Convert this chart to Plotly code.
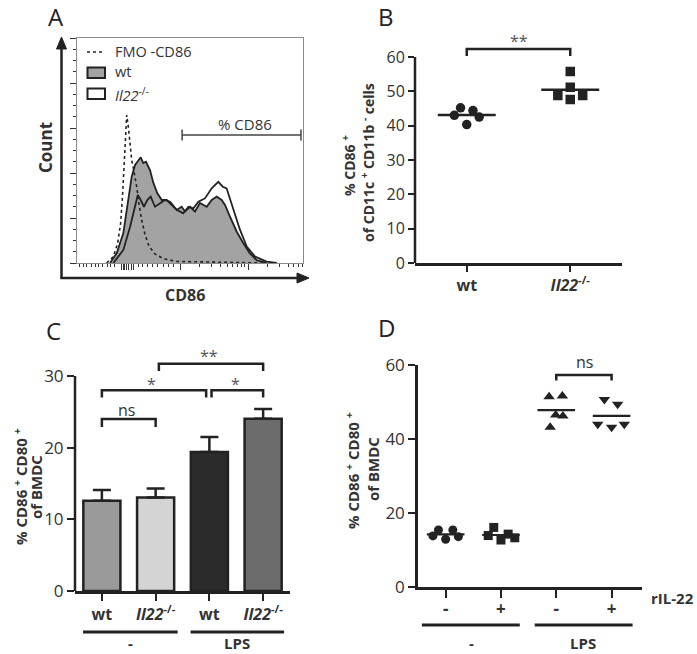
import plotly.graph_objects as go
import numpy as np

W, H = 697, 654
FONT = "Open Sans"
INK = "#222222"


def px(x):
    return x / W


def py(y):
    return 1 - y / H


# ---------------- Panel A: CD86 histogram (arbitrary channel units) ----------------
fmo_x = [13.1, 16.1, 18.0, 19.3, 20.2, 20.9, 21.5, 22.0, 22.7, 23.5, 24.2, 25.2, 26.4, 27.4,
         28.6, 30.1, 31.9, 34.5, 38.2, 44.1, 60.0, 82.3]
fmo_y = [0, 2.8, 8.8, 17.6, 30.8, 45.8, 59.1, 65.8, 60.6, 51.8, 45.8, 40.7, 34.0, 26.5,
         19.2, 12.6, 7.4, 4.0, 1.9, 0.7, 0.3, 0]

wt_x = [14.6, 17.6, 20.5, 22.7, 24.2, 25.7, 27.1, 28.2, 29.3, 30.5, 32.3, 33.8, 35.5, 37.5,
        39.7, 41.9, 44.1, 46.3, 47.8, 50.0, 52.2, 54.4, 57.4, 59.6, 61.8, 64.0, 65.5, 67.7,
        70.7, 73.6, 76.5, 79.5, 83.9]
wt_y = [0, 4.4, 13.3, 28.0, 38.4, 43.6, 45.8, 47.0, 44.4, 45.0, 41.3, 35.6, 31.1, 28.0,
        28.0, 25.8, 23.6, 25.0, 22.9, 25.0, 22.9, 26.7, 25.0, 28.0, 29.5, 28.0, 25.8, 20.6,
        13.9, 8.8, 4.3, 1.3, 0]

ko_x = [16.1, 20.5, 23.5, 25.7, 26.9, 28.2, 29.6, 31.1, 32.6, 34.5, 36.7, 38.9, 41.2, 44.1,
        47.0, 49.3, 51.5, 53.7, 56.6, 59.6, 62.5, 64.5, 66.2, 67.7, 69.9, 72.1, 75.1, 78.8,
        83.9, 88.4]
ko_y = [0, 5.8, 16.1, 25.0, 30.2, 28.0, 25.0, 28.0, 29.5, 25.0, 26.5, 28.0, 27.2, 23.6,
        22.1, 25.0, 24.3, 27.2, 28.7, 33.2, 36.1, 33.9, 33.2, 28.7, 22.1, 14.8, 7.3, 2.8,
        0.6, 0]

gate_x = [46.5, 99.1]
gate_y = 56.9

a_minor_ticks = [0.9, 2.7, 4.4, 6.2, 8.0, 9.7, 11.5, 13.3, 15.0, 16.8, 27.0, 29.2, 31.4, 33.6,
                 35.8, 38.1, 40.3, 42.5, 54.4, 59.7, 63.3, 66.4, 68.6, 70.8, 72.6, 73.9,
                 84.5, 89.8, 93.4, 96.0, 97.8, 99.6]
a_major_ticks = [19.5, 20.4, 21.2, 22.1, 23.0, 23.9, 24.8, 45.6, 75.7]

# ---------------- Panel B ----------------
b_labels = ["<b>wt</b>", "<b><i>Il22</i><sup>-/-</sup></b>"]
b_wt = [43.0, 45.2, 40.3, 44.4, 42.5]
b_ko = [48.8, 55.8, 51.2, 47.6, 48.8]
b_wt_off = [-0.12, -0.06, 0.0, 0.06, 0.12]
b_ko_off = [-0.12, 0.0, 0.0, 0.0, 0.12]

# ---------------- Panel C ----------------
c_labels = ["<b>wt</b>", "<b><i>Il22</i><sup>-/-</sup></b>", "<b>wt</b>", "<b><i>Il22</i><sup>-/-</sup></b>"]
c_mean = [12.6, 13.05, 19.4, 24.05]
c_sem = [1.5, 1.25, 2.1, 1.35]
c_colors = ["#9a9a9a", "#d4d4d4", "#2b2b2b", "#6c6c6c"]

# ---------------- Panel D ----------------
d_labels = ["<b>-</b>", "<b>+</b>", "<b>-</b>", "<b>+</b>"]
d_g1 = [13.8, 15.4, 12.9, 15.4, 13.6]
d_g2 = [13.9, 16.1, 12.7, 14.3, 13.3]
d_g3 = [51.4, 51.6, 46.5, 46.2, 43.2]
d_g4 = [44.0, 50.7, 43.2, 49.4, 44.0]
d_off1 = [-0.23, -0.13, 0.0, 0.13, 0.23]
d_off2 = [-0.23, -0.13, 0.0, 0.13, 0.25]
d_off3 = [-0.13, 0.11, -0.01, 0.12, -0.11]
d_off4 = [-0.25, -0.13, 0.0, 0.11, 0.23]
d_symbols = ["circle", "square", "triangle-up", "triangle-down"]

# axis geometry (domain in page pixels, data range)
AX = {
    "A": dict(xd=(77, 303), xr=(0, 100), yd=(263, 38), yr=(0, 100)),
    "B": dict(xd=(415, 622), xr=(-0.5, 1.5), yd=(263, 29.5), yr=(0, 68)),
    "C": dict(xd=(75, 290), xr=(-0.5, 3.5), yd=(591, 358.1), yr=(0, 32.5)),
    "D": dict(xd=(418, 642), xr=(-0.5, 3.55), yd=(587, 365), yr=(0, 60)),
}


def to_paper(panel, x, y):
    g = AX[panel]
    fx = (x - g["xr"][0]) / (g["xr"][1] - g["xr"][0])
    fy = (y - g["yr"][0]) / (g["yr"][1] - g["yr"][0])
    pxv = g["xd"][0] + fx * (g["xd"][1] - g["xd"][0])
    pyv = g["yd"][0] + fy * (g["yd"][1] - g["yd"][0])
    return px(pxv), py(pyv)


def dom_x(p):
    return [px(AX[p]["xd"][0]), px(AX[p]["xd"][1])]


def dom_y(p):
    return [py(AX[p]["yd"][0]), py(AX[p]["yd"][1])]


fig = go.Figure()

# ---- A traces
fig.add_trace(go.Scatter(x=wt_x, y=wt_y, mode="lines", fill="tozeroy", fillcolor="#a3a3a3",
                         line=dict(color=INK, width=1.8), xaxis="x", yaxis="y"))
fig.add_trace(go.Scatter(x=ko_x, y=ko_y, mode="lines",
                         line=dict(color=INK, width=1.8), xaxis="x", yaxis="y"))
fig.add_trace(go.Scatter(x=fmo_x, y=fmo_y, mode="lines",
                         line=dict(color=INK, width=1.6, dash="dot"), xaxis="x", yaxis="y"))

# ---- B traces
for i, (vals, off, sym) in enumerate([(b_wt, b_wt_off, "circle"), (b_ko, b_ko_off, "square")]):
    fig.add_trace(go.Scatter(x=[i + o for o in off], y=vals, mode="markers",
                             marker=dict(symbol=sym, size=9.5, color=INK),
                             xaxis="x2", yaxis="y2"))
    m = float(np.mean(vals))
    fig.add_trace(go.Scatter(x=[i - 0.28, i + 0.28], y=[m, m], mode="lines",
                             line=dict(color=INK, width=2.5), xaxis="x2", yaxis="y2"))

# ---- C traces
fig.add_trace(go.Bar(x=[0, 1, 2, 3], y=c_mean, width=0.69,
                     marker=dict(color=c_colors, line=dict(color=INK, width=2.5)),
                     error_y=dict(type="data", array=c_sem, arrayminus=[0] * 4, symmetric=False,
                                  color=INK, thickness=2.5, width=9),
                     xaxis="x3", yaxis="y3"))

# ---- D traces
for i, (vals, off) in enumerate([(d_g1, d_off1), (d_g2, d_off2), (d_g3, d_off3), (d_g4, d_off4)]):
    size = 9 if i < 2 else 10
    fig.add_trace(go.Scatter(x=[i + o for o in off], y=vals, mode="markers",
                             marker=dict(symbol=d_symbols[i], size=size, color=INK),
                             xaxis="x4", yaxis="y4"))
    m = float(np.mean(vals))
    fig.add_trace(go.Scatter(x=[i - 0.34, i + 0.34], y=[m, m], mode="lines",
                             line=dict(color=INK, width=2.2), xaxis="x4", yaxis="y4"))

common = dict(showgrid=False, zeroline=False, ticks="outside", tickcolor=INK, tickwidth=2,
              linecolor=INK, linewidth=2.5, automargin=False)

fig.update_layout(
    width=W, height=H, autosize=False, margin=dict(l=0, r=0, t=0, b=0, pad=0, autoexpand=False),
    paper_bgcolor="white", plot_bgcolor="white", showlegend=False,
    font=dict(family=FONT, color="#333333"),
    xaxis=dict(domain=dom_x("A"), range=list(AX["A"]["xr"]), showgrid=False, zeroline=False,
               showline=True, mirror=True, linecolor="#8c8c8c", linewidth=1,
               tickmode="array", tickvals=a_major_ticks, showticklabels=False,
               ticks="outside", ticklen=6, tickwidth=1, tickcolor="#333",
               minor=dict(tickmode="array", tickvals=a_minor_ticks, ticks="outside",
                          ticklen=3, tickwidth=1, tickcolor="#333")),
    yaxis=dict(domain=dom_y("A"), range=list(AX["A"]["yr"]), showgrid=False, zeroline=False,
               showline=True, mirror=True, linecolor="#8c8c8c", linewidth=1,
               tickmode="linear", tick0=0, dtick=20, showticklabels=False,
               ticks="outside", ticklen=6, tickwidth=1, tickcolor="#333",
               minor=dict(dtick=5, ticks="outside", ticklen=3, tickwidth=1, tickcolor="#333")),
    xaxis2=dict(domain=dom_x("B"), range=list(AX["B"]["xr"]), showline=True,
                tickmode="array", tickvals=[0, 1], ticktext=b_labels, ticklen=6,
                tickfont=dict(family=FONT, size=16, color="#333"), anchor="y2", **common),
    yaxis2=dict(domain=dom_y("B"), range=list(AX["B"]["yr"]), showline=False,
                tickmode="array", tickvals=[0, 10, 20, 30, 40, 50, 60], ticklen=6,
                tickfont=dict(family=FONT, size=16, color="#333"), anchor="x2", **common),
    xaxis3=dict(domain=dom_x("C"), range=list(AX["C"]["xr"]), showline=True,
                tickmode="array", tickvals=[0, 1, 2, 3], ticktext=c_labels, ticklen=7,
                tickfont=dict(family=FONT, size=16, color="#333"), anchor="y3", **common),
    yaxis3=dict(domain=dom_y("C"), range=list(AX["C"]["yr"]), showline=False,
                tickmode="array", tickvals=[0, 10, 20, 30], ticklen=7,
                tickfont=dict(family=FONT, size=17, color="#333"), anchor="x3", **common),
    xaxis4=dict(domain=dom_x("D"), range=list(AX["D"]["xr"]), showline=True,
                tickmode="array", tickvals=[0, 1, 2, 3], ticktext=d_labels, ticklen=8,
                ticklabelstandoff=-3,
                tickfont=dict(family=FONT, size=17, color="#333"), anchor="y4", **common),
    yaxis4=dict(domain=dom_y("D"), range=list(AX["D"]["yr"]), showline=True,
                tickmode="array", tickvals=[0, 20, 40, 60], ticklen=7,
                tickfont=dict(family=FONT, size=17, color="#333"), anchor="x4", **common),
)

shapes = []
annots = []


def bracket(xr, yr, x0, x1, ytop, drop, width=2.5):
    shapes.append(dict(type="path", xref=xr, yref=yr,
                       path=f"M {x0},{ytop - drop} L {x0},{ytop} L {x1},{ytop} L {x1},{ytop - drop}",
                       line=dict(color=INK, width=width)))


def text(x, y, s, size=15, angle=0, color="#333333", xanchor="center"):
    annots.append(dict(x=x, y=y, xref="paper", yref="paper", text=s, showarrow=False,
                       textangle=angle, font=dict(family=FONT, size=size, color=color),
                       xanchor=xanchor, yanchor="middle", borderpad=0))


def dtext(panel, x, y, s, size=16, color="#333333"):
    xx, yy = to_paper(panel, x, y)
    text(xx, yy, s, size=size, color=color)


def seg(x0, y0, x1, y1, width=2.5, color=INK, dash=None):
    ln = dict(color=color, width=width)
    if dash:
        ln["dash"] = dash
    shapes.append(dict(type="line", xref="paper", yref="paper", x0=px(x0), y0=py(y0),
                       x1=px(x1), y1=py(y1), line=ln))


# ---- A decorations: arrow axes
seg(61.5, 278, 61.5, 46)
seg(60.3, 278, 300, 278)
shapes.append(dict(type="path", xref="paper", yref="paper", fillcolor=INK, line=dict(color=INK, width=1),
                   path=f"M {px(56.5)},{py(49)} L {px(61.5)},{py(37)} L {px(66.5)},{py(49)} Z"))
shapes.append(dict(type="path", xref="paper", yref="paper", fillcolor=INK, line=dict(color=INK, width=1),
                   path=f"M {px(297)},{py(273)} L {px(309)},{py(278)} L {px(297)},{py(283)} Z"))
shapes.append(dict(type="line", xref="x", yref="y", x0=gate_x[0], x1=gate_x[1], y0=gate_y, y1=gate_y,
                   line=dict(color="#444", width=1.5)))
for gx in gate_x:
    shapes.append(dict(type="line", xref="x", yref="y", x0=gx, x1=gx, y0=gate_y - 2.4, y1=gate_y + 2.4,
                       line=dict(color="#444", width=1.5)))
text(px(245), py(124), "% CD86", size=15)
# legend
seg(87, 52, 103, 52, width=1.5, dash="dot")
shapes.append(dict(type="rect", xref="paper", yref="paper", x0=px(87.5), x1=px(105), y0=py(67.5), y1=py(78),
                   fillcolor="#a3a3a3", line=dict(color=INK, width=2)))
shapes.append(dict(type="rect", xref="paper", yref="paper", x0=px(87.5), x1=px(105), y0=py(88.5), y1=py(99),
                   fillcolor="white", line=dict(color=INK, width=2)))
text(px(114), py(51.5), "FMO -CD86", size=14.5, xanchor="left")
text(px(114), py(71.5), "wt", size=14.5, xanchor="left")
text(px(114), py(94), "<i>Il22</i><sup>-/-</sup>", size=14.5, xanchor="left")
text(px(45), py(148), "<b>Count</b>", size=17, angle=-90)
text(px(185), py(295), "<b>CD86</b>", size=16)

# ---- B decorations
seg(415, 263, 415, 57)
bracket("x2", "y2", 0, 1, 62.3, 2.0)
dtext("B", 0.5, 64.6, "**", color="#555")
text(px(349), py(166), "<b>% CD86 <sup>+</sup></b>", size=14, angle=-90)
text(px(368), py(163), "<b>of CD11c <sup>+</sup> CD11b <sup>-</sup> cells</b>", size=14, angle=-90)

# ---- C decorations
seg(75, 591, 75, 376)
bracket("x3", "y3", 0, 1, 24.0, 1.1)
bracket("x3", "y3", 0, 1.94, 28.0, 1.0)
bracket("x3", "y3", 2.04, 3, 28.0, 1.0)
bracket("x3", "y3", 1.06, 3, 31.7, 1.0)
dtext("C", 0.45, 25.2, "ns")
dtext("C", 0.93, 28.9, "*", color="#555")
dtext("C", 2.49, 28.9, "*", color="#555")
dtext("C", 2.0, 32.8, "**", color="#555")
for a, b in [(-0.35, 1.41), (1.65, 3.39)]:
    shapes.append(dict(type="line", xref="x3", yref="paper", x0=a, x1=b, y0=py(632), y1=py(632),
                       line=dict(color=INK, width=3)))
text(px(130), py(643), "<b>-</b>", size=15)
text(px(237), py(643), "<b>LPS</b>", size=15)
text(px(20), py(487), "<b>% CD86 <sup>+</sup> CD80 <sup>+</sup></b>", size=15, angle=-90)
text(px(36), py(487), "<b>of BMDC</b>", size=15, angle=-90)

# ---- D decorations
bracket("x4", "y4", 2, 3, 57.3, 1.5)
dtext("D", 2.51, 60.9, "ns")
for a, b in [(-0.43, 1.34), (1.61, 3.38)]:
    shapes.append(dict(type="line", xref="x4", yref="paper", x0=a, x1=b, y0=py(625), y1=py(625),
                       line=dict(color=INK, width=3)))
text(px(471), py(643), "<b>-</b>", size=15)
text(px(583), py(643), "<b>LPS</b>", size=15)
text(px(695), py(598), "<b>rIL-22</b>", size=15, xanchor="right")
text(px(352), py(471), "<b>% CD86 <sup>+</sup> CD80 <sup>+</sup></b>", size=15, angle=-90)
text(px(373), py(469), "<b>of BMDC</b>", size=15, angle=-90)

# ---- panel letters
for L, x, y in [("A", 56, 17), ("B", 386, 17), ("C", 54, 330), ("D", 387, 328)]:
    text(px(x), py(y), L, size=24, color=INK)

fig.update_layout(shapes=shapes, annotations=annots)
fig.write_html("out.html", config={"displayModeBar": False},
               post_script="document.body.style.margin='0';document.documentElement.style.overflow='hidden';")
